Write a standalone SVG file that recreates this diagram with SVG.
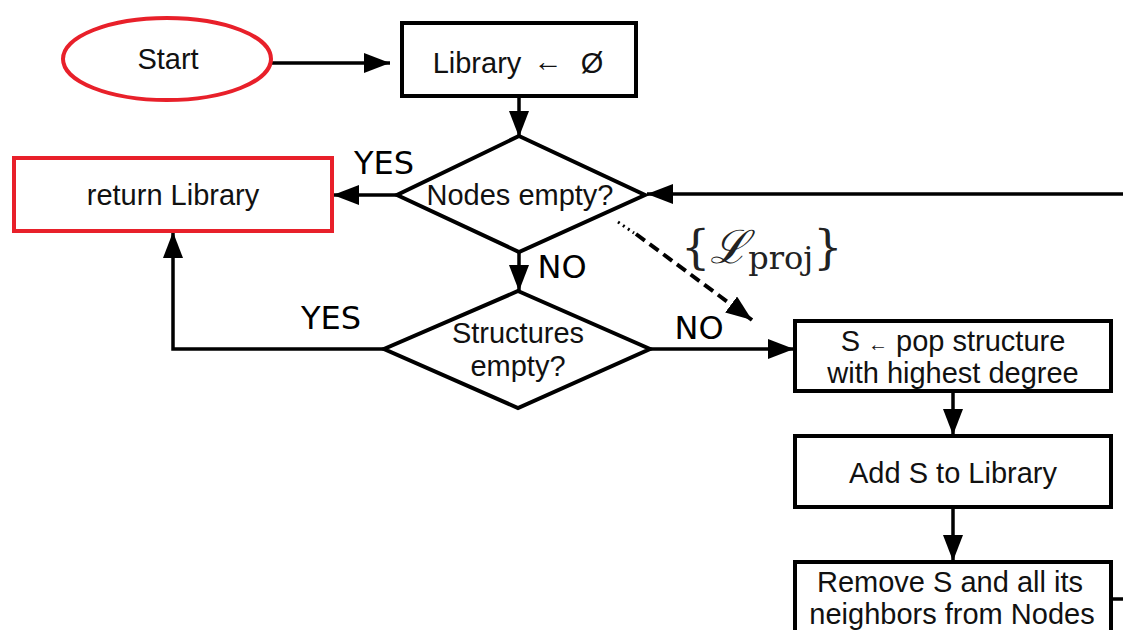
<svg xmlns="http://www.w3.org/2000/svg" width="1123" height="630" viewBox="0 0 1123 630">
  <style>
    .box { fill: #fff; stroke: #000; stroke-width: 4; }
    .red { fill: #fff; stroke: #e8202a; stroke-width: 4; }
    .lbl { font-family: "Liberation Sans", Arial, sans-serif; font-size: 29px; fill: #111; text-anchor: middle; }
    .yn { font-family: "DejaVu Sans", sans-serif; font-size: 32px; fill: #000; text-anchor: middle; }
    .wire { fill: none; stroke: #000; stroke-width: 3.5; }
    .math { font-family: "DejaVu Serif", "Liberation Serif", serif; fill: #222; }
  </style>
  <defs>
    <marker id="arrow" viewBox="0 0 26 20" refX="26" refY="10" markerUnits="userSpaceOnUse" markerWidth="26" markerHeight="20" orient="auto">
      <path d="M0,0 L26,10 L0,20 Z" fill="#000"/>
    </marker>
  </defs>

  <!-- connectors -->
  <g id="connectors">
    <path class="wire" d="M272,63 H390" marker-end="url(#arrow)"/>
    <path class="wire" d="M519,96 V137" marker-end="url(#arrow)"/>
    <path class="wire" d="M397,195 H333" marker-end="url(#arrow)"/>
    <path class="wire" d="M519,252 V291" marker-end="url(#arrow)"/>
    <path class="wire" d="M384,349 H173 V232" marker-end="url(#arrow)"/>
    <path class="wire" d="M650,349 H794" marker-end="url(#arrow)"/>
    <path class="wire" d="M953,391 V435" marker-end="url(#arrow)"/>
    <path class="wire" d="M953,507 V561" marker-end="url(#arrow)"/>
    <path class="wire" d="M1123,194 H647" marker-end="url(#arrow)"/>
    <path class="wire" d="M1111,599 H1123"/>
    <!-- projection hint: dotted start, then dashed -->
    <path d="M618,222 L634,233" fill="none" stroke="#000" stroke-width="3" stroke-dasharray="2,4"/>
    <path d="M636,234 L752,320" fill="none" stroke="#000" stroke-width="4" stroke-dasharray="11,6" marker-end="url(#arrow)"/>
    <text class="yn" x="384" y="174">YES</text>
    <text class="yn" x="562" y="278">NO</text>
    <text class="yn" x="331" y="329">YES</text>
    <text class="yn" x="699" y="339">NO</text>
    <text class="math" x="681" y="263" font-size="46">{<tspan font-style="italic">ℒ</tspan><tspan font-size="32" dy="6">proj</tspan><tspan dy="-6">}</tspan></text>
  </g>

  <g id="start">
    <ellipse class="red" cx="167" cy="59" rx="104" ry="41"/>
    <text class="lbl" x="168" y="69">Start</text>
  </g>

  <g id="init">
    <rect class="box" x="402" y="23" width="234" height="73"/>
    <text class="lbl" x="477" y="73">Library</text>
    <text class="lbl" x="548" y="71" font-size="22">←</text>
    <text class="lbl" x="592" y="73">Ø</text>
  </g>

  <g id="nodes-empty">
    <polygon class="box" points="519,136 645,195 519,252 397,195"/>
    <text class="lbl" x="520" y="205">Nodes empty?</text>
  </g>

  <g id="return">
    <rect class="red" x="14" y="158" width="318" height="73"/>
    <text class="lbl" x="173" y="205">return Library</text>
  </g>

  <g id="structures-empty">
    <polygon class="box" points="518,291 650,349 518,408 384,349"/>
    <text class="lbl" x="518" y="343">Structures</text>
    <text class="lbl" x="518" y="376">empty?</text>
  </g>

  <g id="pop">
    <rect class="box" x="795" y="321" width="316" height="70"/>
    <text class="lbl" x="953" y="351"><tspan>S </tspan><tspan font-size="20">←</tspan><tspan> pop structure</tspan></text>
    <text class="lbl" x="953" y="383">with highest degree</text>
  </g>

  <g id="add">
    <rect class="box" x="795" y="436" width="316" height="71"/>
    <text class="lbl" x="953" y="483">Add S to Library</text>
  </g>

  <g id="remove">
    <rect class="box" x="795" y="562" width="316" height="80"/>
    <text class="lbl" x="950" y="592">Remove S and all its</text>
    <text class="lbl" x="952" y="624">neighbors from Nodes</text>
  </g>
</svg>
